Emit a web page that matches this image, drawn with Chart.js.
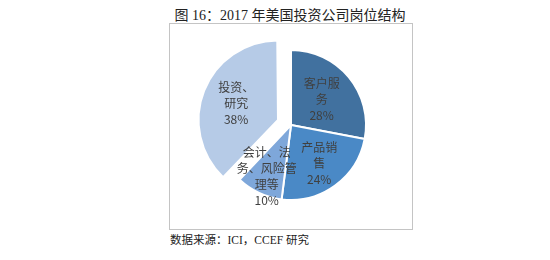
<!DOCTYPE html>
<html>
<head>
<meta charset="utf-8">
<script src="https://cdn.jsdelivr.net/npm/chart.js@4"></script>
<style>
  body { margin: 0; width: 550px; height: 260px; background: #fff; position: relative; overflow: hidden; }
  #title { position: absolute; left: 0; width: 580px; top: 4px; text-align: center; font: 14px "Liberation Serif", "Noto Sans CJK SC"; color: #222; }
  #frame { position: absolute; left: 169px; top: 23px; width: 242px; height: 205px; border: 1px solid #c4c4c4; box-sizing: content-box; }
  #source { position: absolute; left: 170px; top: 231px; font: 11.5px "Liberation Serif", "Noto Sans CJK SC"; color: #222; }
  #box { position: absolute; left: 187px; top: 21px; width: 208px; height: 208px; }
</style>
</head>
<body>
<div id="title">图 16：2017 年美国投资公司岗位结构</div>
<div id="frame"></div>
<div id="box"><canvas id="myChart" width="208" height="208"></canvas></div>
<div id="source">数据来源：ICI，CCEF 研究</div>
<script>
// slice names, split into lines like the picture
const labels = [['客户服', '务'], ['产品销', '售'], ['会计、法', '务、风险管', '理等'], ['投资、', '研究']];
const shares = [28, 24, 10, 38];   // percent
const colors = ['#41719f', '#4a89c6', '#7ea7da', '#b6cbe7'];
const explode = [0, 0, 0, 56];      // only 投资、研究 is pulled out (Chart.js moves it by offset/4)

// how far out (share of radius) each label sits
const labelRadius = [0.53, 0.64, 0.76, 0.6];

// draw the text inside each slice
const sliceLabels = {
  id: 'sliceLabels',
  afterDatasetsDraw(chart) {
    const ctx = chart.ctx;
    const arcs = chart.getDatasetMeta(0).data;
    ctx.save();
    ctx.font = '12px "Noto Sans CJK SC"';
    ctx.fillStyle = '#404040';
    ctx.textAlign = 'center';
    ctx.textBaseline = 'middle';
    arcs.forEach(function (arc, i) {
      const p = arc.getProps(['x', 'y', 'startAngle', 'endAngle', 'outerRadius'], true);
      const mid = (p.startAngle + p.endAngle) / 2;
      const r = p.outerRadius * labelRadius[i] + explode[i] / 4;
      const cx = p.x + Math.cos(mid) * r;
      const cy = p.y + Math.sin(mid) * r;
      const lines = labels[i].concat([shares[i] + '%']);
      const lh = 16;
      lines.forEach(function (t, k) {
        ctx.fillText(t, cx, cy + (k - (lines.length - 1) / 2) * lh);
      });
    });
    ctx.restore();
  }
};

const ctx = document.getElementById('myChart').getContext('2d');
const myChart = new Chart(ctx, {
  type: 'pie',
  data: {
    labels: labels.map(l => l.join('')),
    datasets: [{
      data: shares,
      backgroundColor: colors,
      borderColor: '#ffffff',
      borderWidth: 2,
      offset: explode
    }]
  },
  options: {
    responsive: false,
    animation: false,
    layout: { padding: 0 },
    plugins: { legend: { display: false }, tooltip: { enabled: false } }
  },
  plugins: [sliceLabels]
});
</script>
</body>
</html>
